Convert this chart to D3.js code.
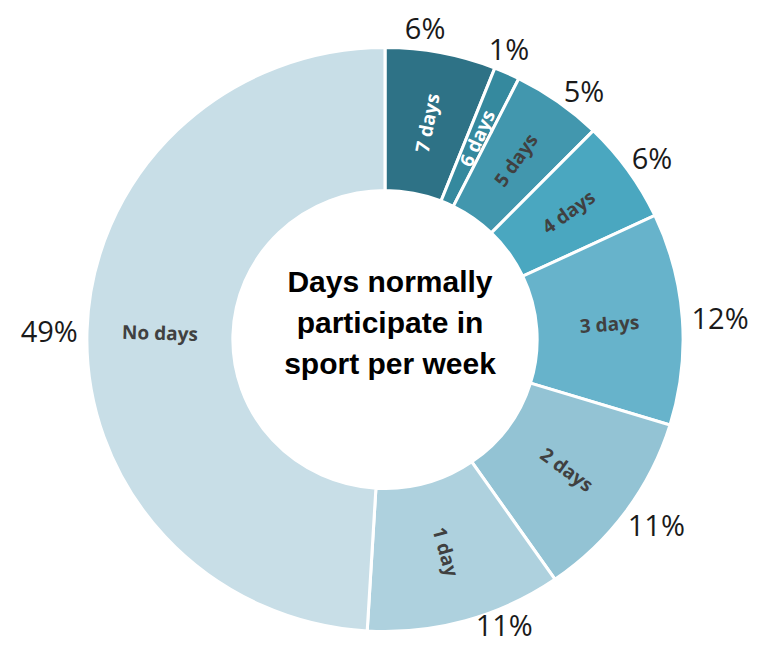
<!DOCTYPE html>
<html>
<head>
<meta charset="utf-8">
<script src="https://cdn.jsdelivr.net/npm/d3@7"></script>
<style>
  html, body { margin: 0; padding: 0; background: #ffffff; }
  svg { display: block; }
</style>
</head>
<body>
<svg id="chart" width="772" height="645"></svg>
<script>
// ---- data ----
const categories = ["7 days", "6 days", "5 days", "4 days", "3 days", "2 days", "1 day", "No days"];
const values = [6.0, 1.4, 4.9, 5.7, 11.7, 10.6, 10.6, 49.0];
const percentLabels = ["6%", "1%", "5%", "6%", "12%", "11%", "11%", "49%"];
const colors = ["#2e7286", "#35899e", "#4297ae", "#4aa7c0", "#67b3cb", "#93c3d4", "#aed1de", "#c8dee7"];
const labelColors = ["#ffffff", "#ffffff", "#404040", "#404040", "#404040", "#404040", "#404040", "#404040"];
const titleLines = ["Days normally", "participate in", "sport per week"];

// ---- layout ----
const W = 772, H = 645;
const cx = 385, cy = 339.5;
const outerR = 292, innerR = 149;
const sx = 1.021; // slight horizontal stretch seen in the reference

const svg = d3.select("#chart");
const g = svg.append("g").attr("transform", `translate(${cx},${cy})`);
const gs = g.append("g").attr("transform", `scale(${sx},1)`);

const data = categories.map((c, i) => ({ cat: c, value: values[i], pct: percentLabels[i], color: colors[i], lc: labelColors[i] }));

const pie = d3.pie().value(d => d.value).sort(null).startAngle(0).endAngle(2 * Math.PI);
const arcs = pie(data);
const arc = d3.arc().innerRadius(innerR).outerRadius(outerR);

gs.selectAll("path.slice").data(arcs).enter().append("path")
  .attr("class", "slice")
  .attr("d", arc)
  .attr("fill", d => d.data.color)
  .attr("stroke", "#ffffff")
  .attr("stroke-width", 3)
  .attr("stroke-linejoin", "miter");

// segment labels (rotated radially)
const midR = (innerR + outerR) / 2;
g.selectAll("text.seg").data(arcs).enter().append("text")
  .attr("class", "seg")
  .attr("transform", d => {
    const a = (d.startAngle + d.endAngle) / 2;
    const deg = a * 180 / Math.PI;
    const x = sx * midR * Math.sin(a), y = -midR * Math.cos(a);
    let rot = deg <= 180 ? deg - 90 : deg - 270;
    return `translate(${x},${y}) rotate(${rot})`;
  })
  .attr("text-anchor", "middle")
  .attr("dominant-baseline", "central")
  .attr("font-family", "'Open Sans', sans-serif")
  .attr("font-weight", "bold")
  .attr("font-size", 19)
  .attr("fill", d => d.data.lc)
  .text(d => d.data.cat);

// percent labels outside: box-adjacent placement with simple collision relaxation
const fontPct = 29;
const measure = svg.append("text").attr("font-family", "'Open Sans', sans-serif").attr("font-size", fontPct);
const widths = arcs.map(d => { measure.text(d.data.pct); return measure.node().getComputedTextLength(); });
measure.remove();
const boxH = 26, R0 = outerR + 9;
let angles = arcs.map(d => (d.startAngle + d.endAngle) / 2);
function center(a, w) {
  const px = sx * R0 * Math.sin(a), py = -R0 * Math.cos(a);
  return [px + (w / 2) * Math.sin(a), py - (boxH / 2) * Math.cos(a)];
}
for (let it = 0; it < 200; it++) {
  for (let i = 0; i < angles.length - 1; i++) {
    const c1 = center(angles[i], widths[i]), c2 = center(angles[i + 1], widths[i + 1]);
    const dist = Math.hypot(c1[0] - c2[0], c1[1] - c2[1]);
    if (dist < 84) { angles[i] -= 0.006; angles[i + 1] += 0.003; }
  }
}
const pos = angles.map((a, i) => {
  let [x, y] = center(a, widths[i]);
  const maxY = H - cy - 21;
  if (y > maxY) { x += (y - maxY) * 1.6; y = maxY; }
  return [x, y];
});

g.selectAll("text.pct").data(arcs).enter().append("text")
  .attr("class", "pct")
  .attr("x", (d, i) => pos[i][0])
  .attr("y", (d, i) => pos[i][1])
  .attr("text-anchor", "middle")
  .attr("dominant-baseline", "central")
  .attr("font-family", "'Open Sans', sans-serif")
  .attr("font-size", fontPct)
  .attr("fill", "#1a1a1a")
  .text(d => d.data.pct);

// center title
const title = g.append("text")
  .attr("text-anchor", "middle")
  .attr("font-family", "'Liberation Sans', Arial, sans-serif")
  .attr("font-weight", "bold")
  .attr("font-size", 30)
  .attr("fill", "#000000");
titleLines.forEach((t, i) => {
  title.append("tspan").attr("x", 5).attr("y", -47.5 + i * 41).text(t);
});
</script>
</body>
</html>
